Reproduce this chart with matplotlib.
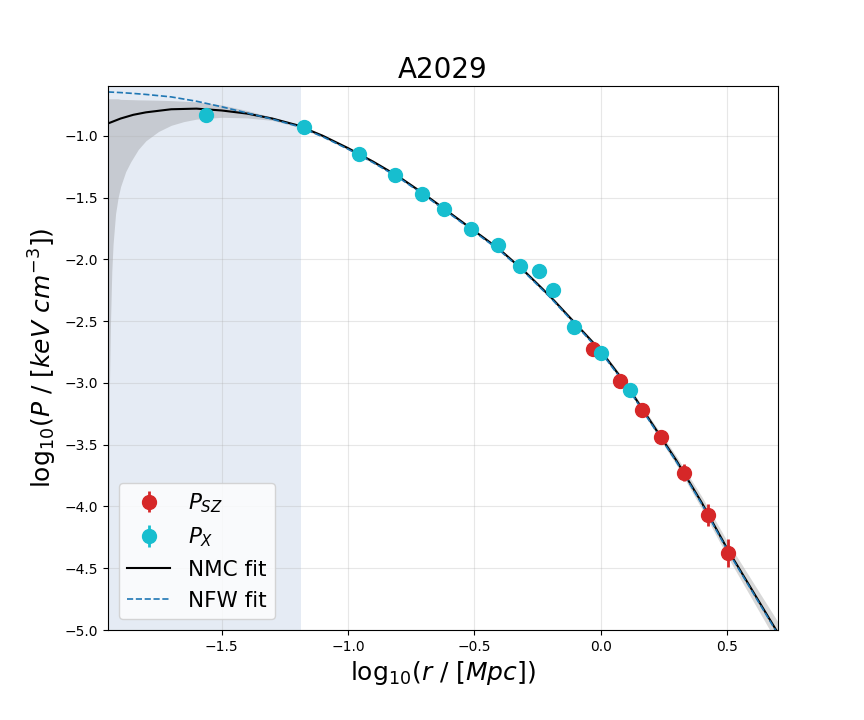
"""A2029 – Druckprofil mit NMC- und NFW-Fit."""

import matplotlib

matplotlib.use("Agg")
import matplotlib.pyplot as plt

# --- Datenpunkte (log10 r [Mpc], log10 P [keV cm^-3]) ---
sz_x = [-0.029, 0.078, 0.165, 0.240, 0.331, 0.426, 0.505]
sz_y = [-2.722, -2.982, -3.217, -3.436, -3.728, -4.069, -4.377]
sz_err = [0.03, 0.03, 0.04, 0.05, 0.07, 0.09, 0.11]

x_x = [-1.564, -1.176, -0.958, -0.816, -0.709, -0.622, -0.515,
       -0.408, -0.321, -0.246, -0.187, -0.104, 0.003, 0.117]
x_y = [-0.834, -0.931, -1.150, -1.320, -1.474, -1.596, -1.758,
       -1.880, -2.050, -2.098, -2.252, -2.544, -2.755, -3.055]
x_err = [0.01] * len(x_x)

# --- Fitkurven ---
fit_x = [-1.95, -1.9, -1.85, -1.8, -1.7, -1.6, -1.5, -1.4, -1.3, -1.2,
         -1.1, -1.0, -0.9, -0.8, -0.7, -0.6, -0.5, -0.4, -0.3, -0.2,
         -0.1, 0.0, 0.1, 0.2, 0.3, 0.4, 0.5, 0.6, 0.7]
nmc_y = [-0.90, -0.86, -0.83, -0.81, -0.785, -0.78, -0.795, -0.82, -0.86, -0.915,
         -1.00, -1.10, -1.21, -1.33, -1.47, -1.62, -1.77, -1.92, -2.10, -2.30,
         -2.52, -2.74, -3.01, -3.32, -3.63, -3.97, -4.34, -4.68, -5.02]
nfw_y = [-0.645, -0.65, -0.657, -0.665, -0.685, -0.72, -0.765, -0.815, -0.865, -0.922,
         -1.008, -1.108, -1.218, -1.338, -1.478, -1.628, -1.778, -1.928, -2.108, -2.308,
         -2.528, -2.75, -3.02, -3.33, -3.64, -3.98, -4.35, -4.69, -5.03]

# --- Unsicherheitsband NMC ---
band_x = [-1.95, -1.947, -1.944, -1.94, -1.935, -1.93, -1.92, -1.91, -1.9, -1.88,
          -1.86, -1.83, -1.8, -1.75, -1.7, -1.65, -1.6, -1.5, -1.4, -1.3,
          -1.2, -1.1, -1.0, -0.9, -0.8, -0.7, -0.6, -0.5, -0.4, -0.3,
          -0.2, -0.1, 0.0, 0.1, 0.2, 0.3, 0.4, 0.5, 0.6, 0.7]
band_lo = [-5.5, -4.0, -3.0, -2.5, -2.1, -1.88, -1.63, -1.50, -1.41, -1.29,
           -1.21, -1.11, -1.04, -0.965, -0.915, -0.885, -0.865, -0.85, -0.855, -0.875,
           -0.927, -1.012, -1.112, -1.222, -1.342, -1.482, -1.632, -1.782, -1.932, -2.113,
           -2.314, -2.535, -2.757, -3.03, -3.345, -3.665, -4.02, -4.40, -4.755, -5.11]
band_hi = [-0.70, -0.70, -0.70, -0.70, -0.70, -0.70, -0.70, -0.70, -0.705, -0.706,
           -0.707, -0.709, -0.71, -0.712, -0.715, -0.72, -0.725, -0.75, -0.795, -0.85,
           -0.903, -0.988, -1.088, -1.198, -1.318, -1.458, -1.608, -1.758, -1.908, -2.087,
           -2.286, -2.505, -2.723, -2.99, -3.295, -3.595, -3.92, -4.28, -4.605, -4.93]

# Bereich innerhalb der Auflösungsgrenze
span_max = -1.185

fig, ax = plt.subplots(figsize=(8.64, 7.2), dpi=100)
fig.subplots_adjust(left=0.125, right=0.9, top=0.88, bottom=0.125)

ax.axvspan(-2.5, span_max, color="lightsteelblue", alpha=0.33, lw=0, zorder=0)
ax.grid(alpha=0.3, zorder=0.5)

ax.fill_between(band_x, band_lo, band_hi, color="grey", alpha=0.3, lw=0, zorder=1)
nmc_line, = ax.plot(fit_x, nmc_y, color="black", lw=1.5, zorder=2, label="NMC fit")
nfw_line, = ax.plot(fit_x, nfw_y, "--", color="#1f77b4", lw=1.2, zorder=2, label="NFW fit")

sz = ax.errorbar(sz_x, sz_y, yerr=sz_err, fmt="o", color="#d62728", ms=10,
                 elinewidth=2, zorder=3, label=r"$P_{SZ}$")
px = ax.errorbar(x_x, x_y, yerr=x_err, fmt="o", color="#17becf", ms=10,
                 elinewidth=2, zorder=3, label=r"$P_X$")

ax.set_xlim(-1.95, 0.70)
ax.set_ylim(-5.0, -0.6)
ax.tick_params(labelsize=10)
ax.set_xlabel(r"log$_{10}$($r$ / [$Mpc$])", fontsize=18)
ax.set_ylabel(r"log$_{10}$($P$ / [$keV\ cm^{-3}$])", fontsize=18)
ax.set_title("A2029", fontsize=20)

ax.legend(handles=[sz, px, nmc_line, nfw_line], loc="lower left", fontsize=15.5)

fig.savefig("out.png", dpi=100)
